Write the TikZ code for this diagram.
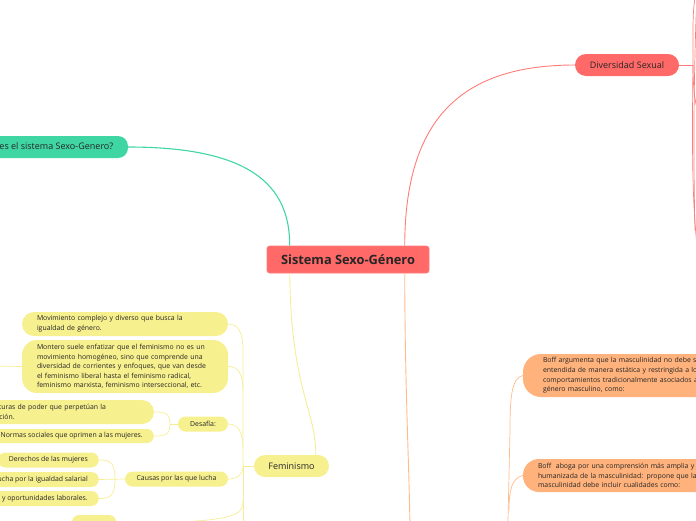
\documentclass[tikz,border=0pt]{standalone}
\usepackage{fontspec}
\setmainfont{Open Sans}
\usetikzlibrary{calc}
\definecolor{cred}{HTML}{FF6967}
\definecolor{credl}{HTML}{FF7C78}
\definecolor{cteal}{HTML}{3FD6A3}
\definecolor{cyel}{HTML}{F7F08F}
\definecolor{cyell}{HTML}{F6EE96}
\definecolor{cora}{HTML}{FFB27B}
\definecolor{coral}{HTML}{FFBB8A}
\definecolor{ctxt}{HTML}{262626}
\tikzset{
  smalltxt/.style={font=\fontsize{6.9}{9.6}\selectfont},
  ybox/.style={fill=cyel, text=ctxt, smalltxt, align=left, inner ysep=0pt},
  obox/.style={fill=cora, text=ctxt, smalltxt, align=left, inner ysep=0pt, rounded corners=18pt},
  pill/.style={text=ctxt, inner ysep=0pt, align=center},
  yline/.style={draw=cyell, line width=0.9pt},
  oline/.style={draw=coral, line width=0.9pt},
  rline/.style={draw=credl, line width=0.9pt},
  tline/.style={draw=cteal, line width=1.1pt},
}
\begin{document}
\begin{tikzpicture}[x=1pt,y=-1pt]
\useasboundingbox (0,0) rectangle (696,520);
\clip (0,0) rectangle (696,520);

% ---------- nodes ----------
\node[fill=cred, draw=credl, line width=0.6pt, rounded corners=2.5pt, minimum width=162pt, minimum height=27pt,
      text=ctxt, font=\fontsize{12.8}{14}\bfseries\selectfont, inner sep=0pt] (central) at (348,259.5) {Sistema Sexo-Género};

\node[pill, fill=cteal, rounded corners=10pt, minimum width=167pt, minimum height=22pt,
      font=\fontsize{9}{11}\selectfont] (teal) at (44.5,147) {¿Qué es el sistema Sexo-Genero?};

\node[pill, fill=cred, rounded corners=11pt, minimum width=104pt, minimum height=22pt,
      font=\fontsize{9}{10}\selectfont] (divs) at (627,65) {Diversidad Sexual};

\node[pill, fill=cyel, rounded corners=11pt, minimum width=75pt, minimum height=22pt,
      font=\fontsize{9}{10}\selectfont] (fem) at (291.5,466) {Feminismo};

% orange boxes
\node[obox, inner xsep=20pt, text width=220pt, minimum height=43pt] (boff1) at (653,375.5)
 {Boff argumenta que la masculinidad no debe ser\\entendida de manera estática y restringida a los\\comportamientos tradicionalmente asociados al\\género masculino, como:};
\node[obox, inner xsep=15pt, text width=220pt, minimum height=33pt, rounded corners=16pt] (boff2) at (648,475.5)
 {Boff\ \ aboga por una comprensión más amplia y\\humanizada de la masculinidad: propone que la\\masculinidad debe incluir cualidades como:};

% yellow children
\node[ybox, inner xsep=15pt, text width=176pt, minimum height=24pt, rounded corners=12pt] (y1) at (125,324)
 {Movimiento complejo y diverso que busca la\\igualdad de género.};
\node[ybox, inner xsep=15pt, text width=176pt, minimum height=53pt, rounded corners=15pt] (y2) at (125,366.5)
 {Montero suele enfatizar que el feminismo no es un\\movimiento homogéneo, sino que comprende una\\diversidad de corrientes y enfoques, que van desde\\el feminismo liberal hasta el feminismo radical,\\feminismo marxista, feminismo interseccional, etc.};

\node[pill, fill=cyel, smalltxt, rounded corners=7.5pt, minimum width=50pt, minimum height=15pt] (desafia) at (203,424) {Desafía:};
\node[ybox, inner xsep=16pt, text width=172pt, minimum height=24pt, rounded corners=12pt] (d1) at (52,412)
 {Las estructuras de poder que perpetúan la\\discriminación.};
\node[ybox, inner xsep=11pt, minimum height=14pt, rounded corners=7pt, anchor=east] (d2) at (154,436)
 {Normas sociales que oprimen a las mujeres.};

\node[pill, fill=cyel, smalltxt, rounded corners=7.5pt, minimum width=103pt, minimum height=15pt] (causas) at (176.5,479) {Causas por las que lucha};
\node[ybox, inner xsep=11pt, minimum height=15pt, rounded corners=7.5pt, anchor=east] (c1) at (99,460) {Derechos de las mujeres};
\node[ybox, inner xsep=11pt, minimum height=15pt, rounded corners=7.5pt, anchor=east] (c2) at (99,479.5) {Lucha por la igualdad salarial};
\node[ybox, inner xsep=11pt, minimum height=15pt, rounded corners=7.5pt, anchor=east] (c3) at (99,498.5) {Acceso a la educación y oportunidades laborales.};

\node[fill=cyel, rounded corners=7pt, minimum width=44pt, minimum height=16pt, inner sep=0pt] (ybot) at (94,523) {};

% ---------- off-picture coordinates ----------
\coordinate (offleft) at (-10,366);
\coordinate (offbus) at (243,540);
\coordinate (offora) at (410,540);
\coordinate (offora2) at (508,540);
\coordinate (rA) at (697,-10);
\coordinate (rB) at (697,245);
\coordinate (rC) at (703,125);
\coordinate (rhub) at (693,65);

% ---------- connectors ----------
\draw[tline] (teal.east) .. controls (250,147) and (290,185) .. ($(central.north west)+(23,0)$);
\draw[rline] ($(central.north west)+(138,0)$) .. controls (405,120) and (460,65) .. (divs.west);
\draw[rline] (divs.east) -- (rhub);
\draw[rline, line width=0.7pt] (rhub) .. controls (693,30) and (692,5) .. (rA);
\draw[rline, line width=0.7pt] (rhub) .. controls (692,140) and (692,200) .. (rB);
\draw[rline, line width=0.7pt] (rhub) .. controls (693,95) and (696,110) .. (rC);
\draw[rline, line width=0.7pt] (697,-5) .. controls (694,60) and (693,150) .. (695,230);

\draw[oline] ($(central.south west)+(138,0)$) .. controls (405,400) and (410,480) .. (offora);
\draw[oline, line width=0.7pt] (boff1.west) .. controls (512,378) and (510,395) .. (510,430) -- (508,520) -- (offora2);
\draw[oline, line width=0.7pt] (boff2.west) .. controls (512,478) and (509,490) .. (509,510);

\draw[yline] ($(central.south west)+(23,0)$) .. controls (291,390) and (316,410) .. ($(fem.north west)+(62,0)$);
\draw[yline] (fem.west) -- (243,466) -- (offbus);
\draw[yline, line width=0.7pt] (y1.east) .. controls (238,324) and (243,332) .. (243,350) -- (243,466);
\draw[yline, line width=0.7pt] (y2.east) .. controls (238,366) and (243,374) .. (243,390);
\draw[yline, line width=0.7pt] (desafia.east) .. controls (238,424) and (243,432) .. (243,448);
\draw[yline, line width=0.7pt] (causas.east) .. controls (238,479) and (243,474) .. (243,466);
\draw[yline, line width=0.7pt] (y2.west) -- (offleft);
\draw[yline, line width=0.7pt] (ybot.east) .. controls (240,523) and (243,515) .. (243,500);

\draw[yline, line width=0.7pt] (desafia.west) -- (170,424);
\draw[yline, line width=0.7pt] (170,424) .. controls (170,413) and (165,412) .. (d1.east);
\draw[yline, line width=0.7pt] (170,424) .. controls (170,435) and (165,436) .. (d2.east);

\draw[yline, line width=0.7pt] (causas.west) -- (c2.east);
\draw[yline, line width=0.7pt] (115,479) .. controls (115,462) and (110,460) .. (c1.east);
\draw[yline, line width=0.7pt] (115,479) .. controls (115,496) and (110,498.5) .. (c3.east);
\end{tikzpicture}
\end{document}
